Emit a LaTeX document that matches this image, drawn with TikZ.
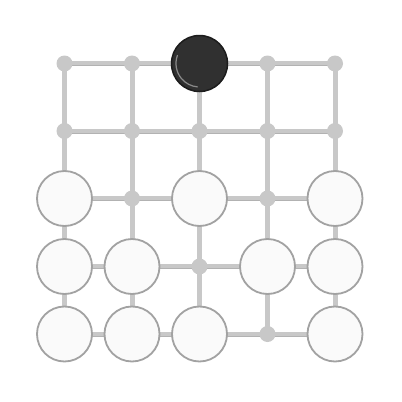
\documentclass[tikz,border=0pt]{standalone}
\begin{document}
\begin{tikzpicture}[x=1pt,y=-1pt,
  gridline/.style={line width=5pt,draw=gridgray},
  gridedge/.style={line width=1pt,draw=gridedgec},
  pointdot/.style={circle,fill=gridgray,minimum size=16pt,inner sep=0pt},
  whitestone/.style={circle,draw=wborder,line width=1.8pt,fill=wfill,minimum size=55pt,inner sep=0pt},
  blackstone/.style={circle,draw=bborder,line width=1.5pt,fill=bfill,minimum size=56pt,inner sep=0pt}]
\definecolor{gridgray}{HTML}{C8C8C8}
\definecolor{gridedgec}{HTML}{B2B2B2}
\definecolor{wborder}{HTML}{A2A2A2}
\definecolor{wfill}{HTML}{FAFAFA}
\definecolor{bborder}{HTML}{1C1C1C}
\definecolor{bfill}{HTML}{303030}
\definecolor{bhigh}{HTML}{8A8A8A}
\useasboundingbox (0,0) rectangle (402,402);
\fill[white] (0,0) rectangle (402,402);
% grid coordinates
\foreach \i/\x in {1/64.5,2/132,3/199.5,4/267.5,5/335}{
  \foreach \j/\y in {1/63.5,2/131,3/198.5,4/266.5,5/334}{
    \coordinate (p-\i-\j) at (\x,\y);
  }
}
% grid lines
\foreach \k in {1,...,5}{
  \draw[gridline] (p-1-\k) -- (p-5-\k);
  \draw[gridline] (p-\k-1) -- (p-\k-5);
  \draw[gridedge] ([yshift=-2pt]p-1-\k) -- ([yshift=-2pt]p-5-\k);
}
% intersection dots
\foreach \p in {1-1,2-1,4-1,5-1,1-2,2-2,3-2,4-2,5-2,2-3,4-3,3-4,4-5}{
  \node[pointdot] (d-\p) at (p-\p) {};
}
% black stone
\node[blackstone] (b-3-1) at (p-3-1) {};
\draw[bhigh,line width=1.2pt,line cap=round] (p-3-1) ++(200:23.5) arc (200:95:23.5);
% white stones
\foreach \p in {1-3,3-3,5-3,1-4,2-4,4-4,5-4,1-5,2-5,3-5,5-5}{
  \node[whitestone] (w-\p) at (p-\p) {};
}
\end{tikzpicture}
\end{document}
